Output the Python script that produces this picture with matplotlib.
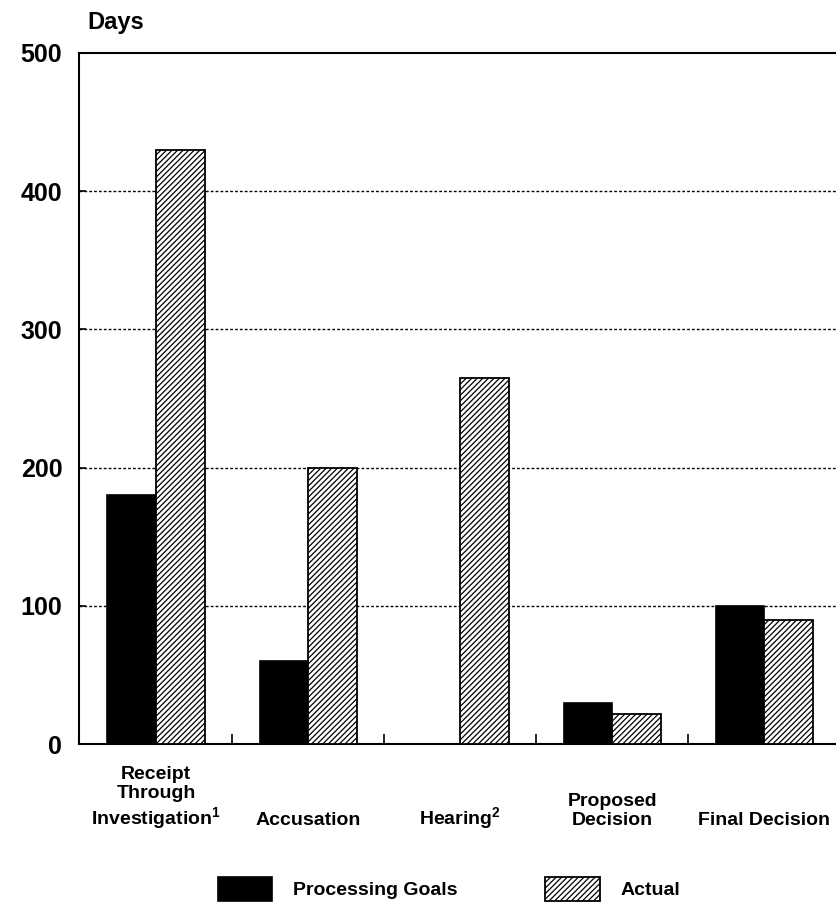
import numpy as np
import matplotlib.pyplot as plt

plt.rcParams['font.family'] = ['Liberation Sans', 'DejaVu Sans']
plt.rcParams['mathtext.fontset'] = 'custom'
plt.rcParams['mathtext.rm'] = 'Liberation Sans:bold'
plt.rcParams['mathtext.bf'] = 'Liberation Sans:bold'
plt.rcParams['hatch.linewidth'] = 0.9

# Data
categories = ['Receipt\nThrough\nInvestigation$^{1}$', 'Accusation', 'Hearing$^{2}$',
              'Proposed\nDecision', 'Final Decision']
goals = [180, 60, 0, 30, 100]
actual = [430, 200, 265, 22, 90]
yticks = [0, 100, 200, 300, 400, 500]

x = np.arange(len(categories))
w = 0.32

fig = plt.figure(figsize=(8.37, 9.09), dpi=100)
ax = fig.add_axes([0.0944, 0.1815, 0.906, 0.7602])

ax.bar(x - w / 2, goals, w, color='black', edgecolor='black', linewidth=1.2,
       label='Processing Goals', zorder=3)
ax.bar(x + w / 2, actual, w, color='white', edgecolor='black', linewidth=1.3,
       hatch='//////', label='Actual', zorder=3)

ax.set_xlim(-0.507, 4.48)
ax.set_ylim(0, 500)
ax.set_yticks(yticks)
ax.set_yticklabels([str(v) for v in yticks], fontsize=18, fontweight='bold')
ax.tick_params(axis='y', direction='in', length=5, width=1.2, pad=12)

ax.set_xticks([])
ax.set_xticks(x[:-1] + 0.5, minor=True)
ax.tick_params(axis='x', which='minor', direction='in', length=7, width=1.2)

for v in yticks[1:-1]:
    ax.axhline(v, color='black', linewidth=1.0, linestyle=(0, (2, 1.5)), zorder=1)

for s in ['left', 'bottom', 'top']:
    ax.spines[s].set_linewidth(1.5)
ax.spines['right'].set_visible(False)

# category labels, baseline-aligned
for xi, lab in zip(x, categories):
    ax.text(xi, -0.117, lab, transform=ax.get_xaxis_transform(), ha='center',
            va='baseline', fontsize=14, fontweight='bold', linespacing=1.15)

fig.text(87 / 837, 1 - 22 / 909, 'Days', fontsize=17, fontweight='bold',
         ha='left', va='center')

ax.legend(loc='center left', bbox_to_anchor=(218 / 837, 1 - 889 / 909),
          bbox_transform=fig.transFigure, ncol=2, frameon=False,
          prop={'size': 14, 'weight': 'bold'}, handlelength=2.8,
          handleheight=1.5, handletextpad=1.08, columnspacing=4.5,
          borderpad=0, borderaxespad=0)

plt.savefig('out.png', dpi=100)
plt.close()
